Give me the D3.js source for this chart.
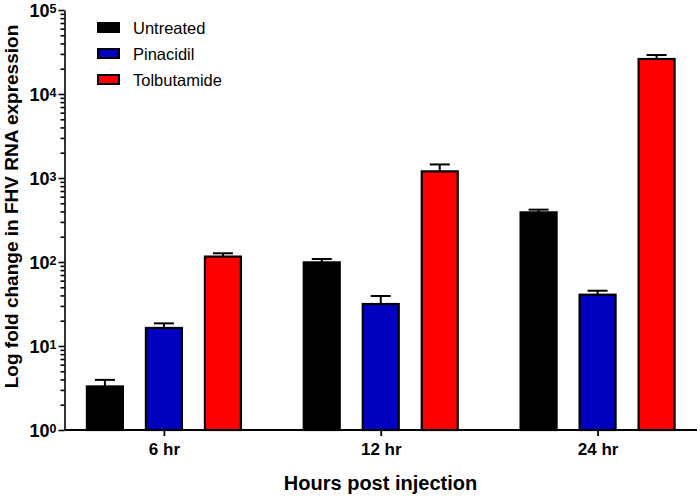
<!DOCTYPE html>
<html><head><meta charset="utf-8">
<script src="https://cdn.jsdelivr.net/npm/d3@7"></script>
<style>body{margin:0;background:#fff}svg{font-family:"Liberation Sans",Arial,sans-serif}</style>
</head><body><svg id="c" width="700" height="497"></svg>
<script>
const categories = ["6 hr", "12 hr", "24 hr"];
const seriesNames = ["Untreated", "Pinacidil", "Tolbutamide"];
const seriesColors = ["#000000", "#0000c0", "#ff0000"];
const untreated = [3.3, 99, 390];
const untreatedErr = [0.65, 9.5, 30];
const pinacidil = [16.4, 31.6, 40.8];
const pinacidilErr = [2.2, 7.8, 4.7];
const tolbutamide = [116, 1200, 26100];
const tolbutamideErr = [11, 250, 3000];
const yTicks = [1, 10, 100, 1000, 10000, 100000];
const yTickExp = ["0", "1", "2", "3", "4", "5"];

(function () {
const values = [untreated, pinacidil, tolbutamide];
const errs = [untreatedErr, pinacidilErr, tolbutamideErr];
const FONT = "'Liberation Sans',Arial,sans-serif";

const svg = d3.select("#c");
const mLeft = 64.5, mRight = 697, mTop = 10, mBottom = 430;

const x = d3.scalePoint().domain(categories).range([mLeft, mRight]).padding(0.4585);
const xs = d3.scaleBand().domain(seriesNames).range([-78, 78]).paddingInner(0.356).paddingOuter(0);
const y = d3.scaleLog().domain([1, 100000]).range([mBottom, mTop]);

// bars
const g = svg.append("g");
categories.forEach((c, i) => {
  seriesNames.forEach((s, j) => {
    const v = values[j][i], e = errs[j][i];
    const bx = x(c) + xs(s);
    const bw = xs.bandwidth();
    const cx = bx + bw / 2;
    g.append("line").attr("x1", cx).attr("x2", cx).attr("y1", y(v)).attr("y2", y(v + e))
      .attr("stroke", "#000").attr("stroke-width", 2);
    g.append("line").attr("x1", cx - 10).attr("x2", cx + 10).attr("y1", y(v + e)).attr("y2", y(v + e))
      .attr("stroke", "#000").attr("stroke-width", 2);
    g.append("rect").attr("x", bx + 1).attr("y", y(v))
      .attr("width", bw - 2).attr("height", mBottom - y(v))
      .attr("fill", seriesColors[j]).attr("stroke", "#000").attr("stroke-width", 2.2);
  });
});

// y axis with minor ticks
const minor = [];
for (let d = 0; d < 5; d++) for (let k = 2; k <= 9; k++) minor.push(k * Math.pow(10, d));
const yAxisG = svg.append("g").attr("transform", `translate(${mLeft},0)`);
yAxisG.call(d3.axisLeft(y).tickValues(minor).tickSize(4).tickFormat(""));
yAxisG.select(".domain").remove();
const yMaj = svg.append("g").attr("transform", `translate(${mLeft},0)`)
  .call(d3.axisLeft(y).tickValues(yTicks).tickSize(6).tickSizeOuter(0).tickFormat(""));
svg.selectAll("path.domain, .tick line").attr("stroke", "#000").attr("stroke-width", 1.6);
yMaj.selectAll(".tick").each(function(d, i) {
  const t = d3.select(this).append("text")
    .attr("x", -8).attr("y", 6.5).attr("text-anchor", "end")
    .attr("fill", "#000").attr("font-size", 18).attr("font-weight", "bold")
    .attr("font-family", FONT);
  t.append("tspan").text("10");
  t.append("tspan").attr("dy", -3.8).attr("font-size", 12.5).text(yTickExp[i]);
});

// x axis
const xAxisG = svg.append("g").attr("transform", `translate(0,${mBottom})`)
  .call(d3.axisBottom(x).tickSize(6).tickSizeOuter(0));
xAxisG.select(".domain").attr("d", `M${mLeft},0H${mRight}`).attr("stroke", "#000").attr("stroke-width", 1.8);
xAxisG.selectAll(".tick line").attr("stroke", "#000").attr("stroke-width", 1.8);
xAxisG.selectAll(".tick text").attr("font-size", 17).attr("font-weight", "bold").attr("fill", "#000")
  .attr("font-family", FONT).attr("y", 25).attr("dy", null);

// axis titles
svg.append("text").attr("x", 380.5).attr("y", 490).attr("text-anchor", "middle")
  .attr("font-size", 20).attr("font-weight", "bold").text("Hours post injection");
svg.append("text").attr("transform", "translate(18,206.5) rotate(-90)").attr("text-anchor", "middle")
  .attr("font-size", 19).attr("font-weight", "bold").text("Log fold change in FHV RNA expression");

// legend
const leg = svg.append("g");
seriesNames.forEach((s, j) => {
  const ly = 28 + j * 26;
  leg.append("rect").attr("x", 98).attr("y", ly - 5).attr("width", 21).attr("height", 9)
    .attr("fill", seriesColors[j]).attr("stroke", "#000").attr("stroke-width", 2);
  leg.append("text").attr("x", 133).attr("y", ly + 6).attr("font-size", 16.5).text(s);
});
})();
</script></body></html>
